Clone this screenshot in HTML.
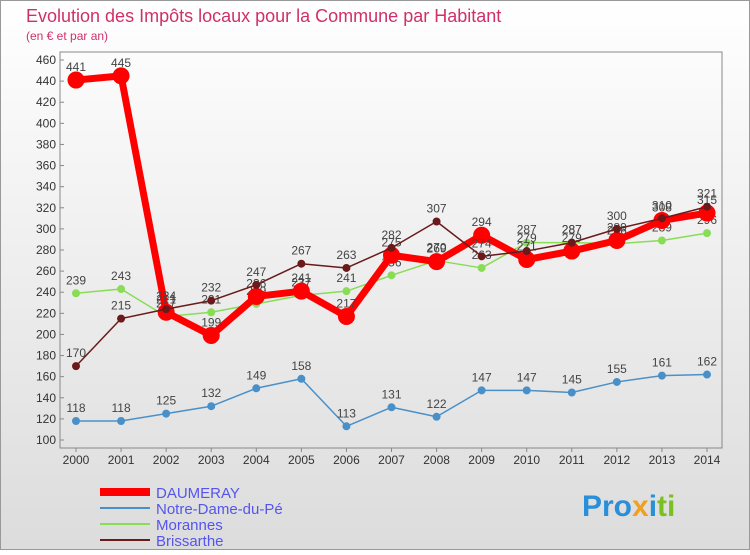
<!DOCTYPE html>
<html><head><meta charset="utf-8"><style>
body{margin:0;width:750px;height:550px;overflow:hidden;font-family:"Liberation Sans",sans-serif;}
</style></head><body>
<svg id="chart" width="750" height="550" xmlns="http://www.w3.org/2000/svg" font-family="Liberation Sans, sans-serif">
<defs><linearGradient id="bg" x1="0" y1="0" x2="0" y2="1"><stop offset="0" stop-color="#ffffff"/><stop offset="1" stop-color="#dcdcdc"/></linearGradient></defs>
<rect x="0.5" y="0.5" width="749" height="549" fill="url(#bg)" stroke="#999"/>
<text x="26" y="22" font-size="18" fill="#d0306a">Evolution des Impôts locaux pour la Commune par Habitant</text>
<text x="26" y="40" font-size="12" fill="#d0306a">(en € et par an)</text>
<g id="axes"></g><g id="series"></g><g id="legend"></g>
<text x="582" y="516" font-size="30" font-weight="bold" fill="#2a8fd8">Pro<tspan fill="#f0a020">x</tspan><tspan fill="#2a8fd8">i</tspan><tspan fill="#7ac020">ti</tspan></text>
</svg>
<script>
const years=[2000,2001,2002,2003,2004,2005,2006,2007,2008,2009,2010,2011,2012,2013,2014];
const daumeray=[441,445,221,199,236,241,217,275,269,294,271,279,289,308,315];
const notreDame=[118,118,125,132,149,158,113,131,122,147,147,145,155,161,162];
const morannes=[239,243,217,221,229,237,241,256,270,263,287,287,286,289,296];
const brissarthe=[170,215,224,232,247,267,263,282,307,274,279,287,300,310,321];
const yTicks=[100,120,140,160,180,200,220,240,260,280,300,320,340,360,380,400,420,440,460];
const NS="http://www.w3.org/2000/svg";
const X=i=>76+i*(707-76)/(years.length-1);
const Y=v=>440-(v-100)*380/360;
function mk(t,a,p){const e=document.createElementNS(NS,t);for(const k in a)e.setAttribute(k,a[k]);(p||document.getElementById('chart')).appendChild(e);return e;}
const ax=document.getElementById('axes');
let f=mk('rect',{x:60,y:52,width:662,height:396,fill:'none',stroke:'#888'},ax);


yTicks.forEach(v=>{const t=mk('text',{x:56,y:Y(v)+4,'font-size':12,'text-anchor':'end',fill:'#333'},ax);t.textContent=v;


mk('line',{x1:60,x2:64,y1:Y(v),y2:Y(v),stroke:'#888'},ax);});
years.forEach((y,i)=>{const t=mk('text',{x:X(i),y:464,'font-size':12,'text-anchor':'middle',fill:'#333'},ax);t.textContent=y;


mk('line',{x1:X(i),x2:X(i),y1:448,y2:452,stroke:'#888'},ax);});
const S=document.getElementById('series');
function draw(name,vals,color,w,r,dot){const g=mk('g',{},S);


mk('polyline',{points:vals.map((v,i)=>X(i)+','+Y(v)).join(' '),fill:'none',stroke:color,'stroke-width':w,'stroke-linejoin':'round'},g);
vals.forEach((v,i)=>{const c=mk('circle',{cx:X(i),cy:Y(v),r:r,fill:dot,stroke:color,'stroke-width':1},g);


const t=mk('text',{x:X(i),y:Y(v)-9,'font-size':12,'text-anchor':'middle',fill:'#444'},g);t.textContent=v;

});}
draw('notre-dame',notreDame,'#4a90c8',1.5,3.5,'#4a90c8');
draw('morannes',morannes,'#88dd55',1.5,3.5,'#88dd55');
draw('daumeray',daumeray,'#ff0000',7,8,'#ff0000');
draw('brissarthe',brissarthe,'#6a1a1a',1.5,3.5,'#6a1a1a');
const L=document.getElementById('legend');
[['DAUMERAY','#ff0000',8],['Notre-Dame-du-Pé','#4a90c8',2],['Morannes','#88dd55',2],['Brissarthe','#6a1a1a',2]].forEach((d,i)=>{
const y=492+i*16;const g=mk('g',{},L);


mk('line',{x1:100,x2:150,y1:y,y2:y,stroke:d[1],'stroke-width':d[2]},g);
const t=mk('text',{x:156,y:y+6,'font-size':15,fill:'#5555ee'},g);t.textContent=d[0];});
</script>
</body></html>
